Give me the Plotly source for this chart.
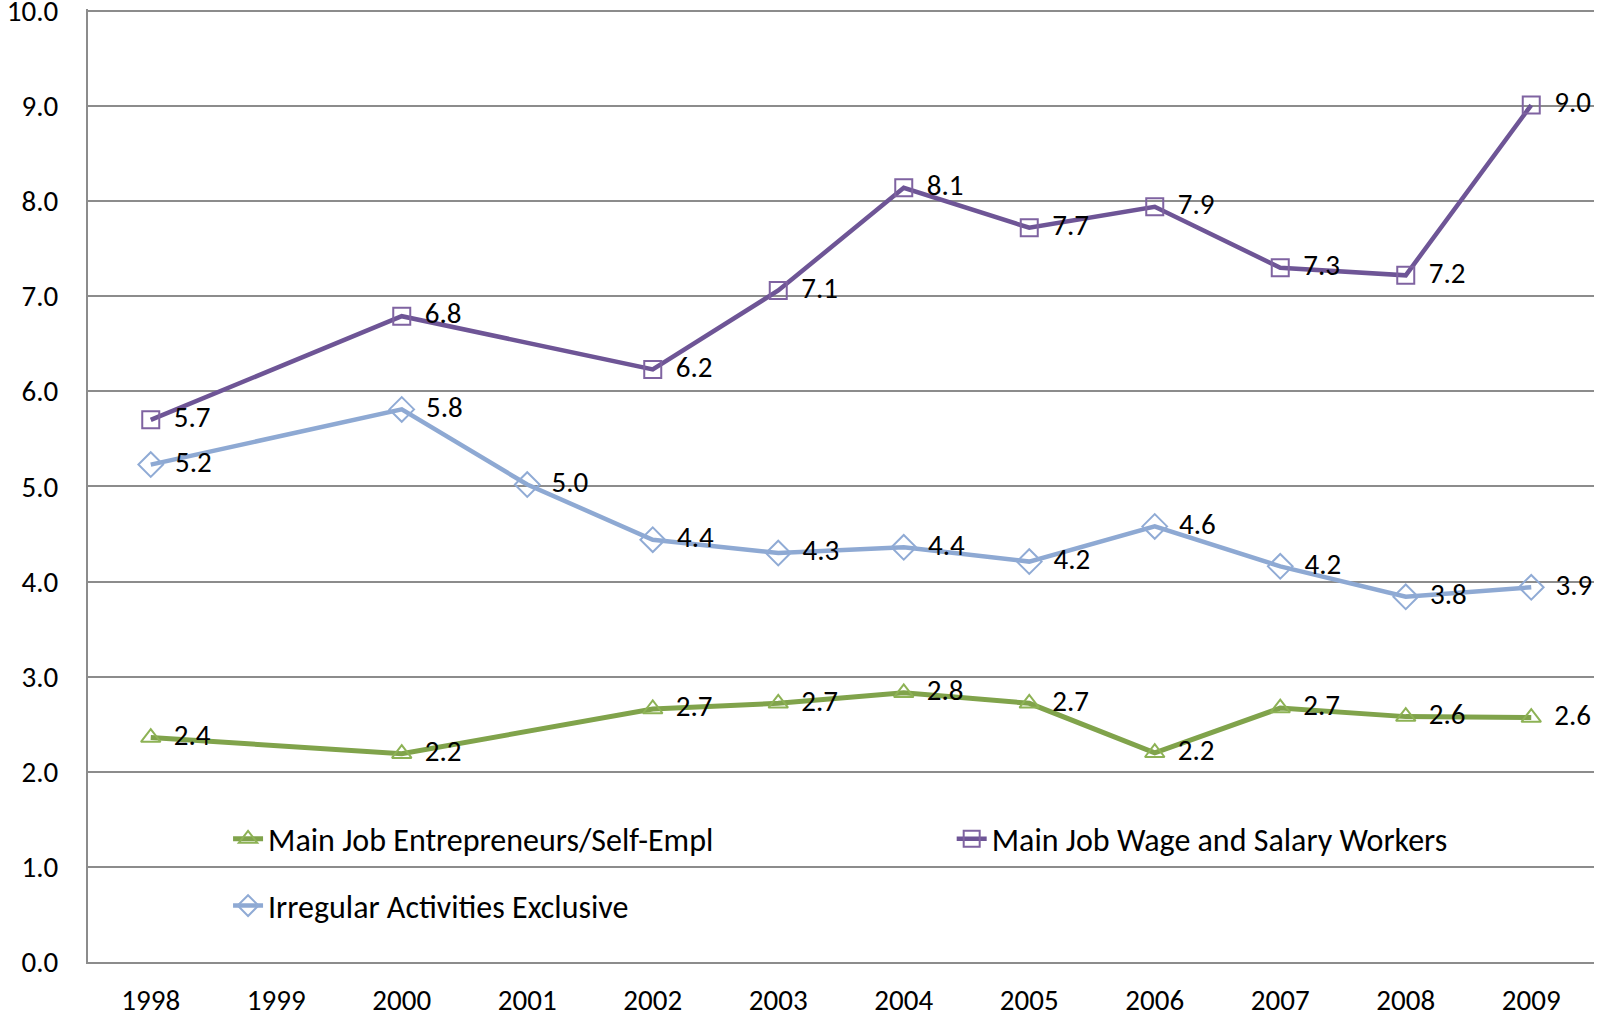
import plotly.graph_objects as go

years = [1998, 1999, 2000, 2001, 2002, 2003, 2004, 2005, 2006, 2007, 2008, 2009]
year_labels = [str(y) for y in years]

entrepreneurs = [2.36, None, 2.19, None, 2.66, 2.72, 2.83, 2.72, 2.20, 2.67, 2.58, 2.57]
wage_salary = [5.70, None, 6.79, None, 6.23, 7.06, 8.14, 7.72, 7.94, 7.30, 7.22, 9.01]
irregular = [5.23, None, 5.81, 5.02, 4.44, 4.30, 4.36, 4.21, 4.58, 4.16, 3.84, 3.94]

y_ticks = [0, 1, 2, 3, 4, 5, 6, 7, 8, 9, 10]

FONT = "Carlito, Lato, 'Open Sans', sans-serif"
FS = 29
LFS = 32

fig = go.Figure()

series = [
    ("Main Job Entrepreneurs/Self-Empl", entrepreneurs, "#80A34B", "#8DB255", "triangle-up-open", 17, 5, "legend"),
    ("Main Job Wage and Salary Workers", wage_salary, "#6E5596", "#7F63A1", "square-open", 17, 4.5, "legend2"),
    ("Irregular Activities Exclusive", irregular, "#8EA9D3", "#90ABD5", "diamond-open", 19, 4.5, "legend3"),
]

for name, vals, lc, mc, sym, ms, lw, leg in series:
    fig.add_trace(go.Scatter(
        x=years, y=vals, name=name, mode="lines+markers+text",
        connectgaps=True, showlegend=True,
        line=dict(color=lc, width=lw),
        marker=dict(symbol=sym, size=ms, color=mc, line=dict(color=mc, width=2)),
        texttemplate="\u00a0\u2006%{y:.1f}", textposition="middle right",
        textfont=dict(family=FONT, size=FS, color="black"),
        cliponaxis=False, hoverinfo="skip",
        legend=leg,
    ))

leg_common = dict(
    orientation="h", xanchor="left", yanchor="middle",
    font=dict(family=FONT, size=LFS, color="black"),
    bgcolor="rgba(0,0,0,0)", visible=True,
)

fig.update_layout(
    width=1598, height=1019,
    margin=dict(l=88, r=4, t=9, b=57, autoexpand=False),
    paper_bgcolor="white", plot_bgcolor="white",
    showlegend=True,
    font=dict(family=FONT, size=FS, color="black"),
    legend=dict(x=0.093, y=0.129, **leg_common),
    legend2=dict(x=0.5735, y=0.129, **leg_common),
    legend3=dict(x=0.093, y=0.059, **leg_common),
    xaxis=dict(
        range=[1997.5, 2009.5], tickmode="array", tickvals=years, ticktext=year_labels,
        showgrid=False, showline=True, linecolor="#8C8C8C", linewidth=2,
        ticks="", zeroline=False, ticklabelstandoff=11, automargin=False,
        ticklabeloverflow="allow",
        tickfont=dict(family=FONT, size=FS, color="black"),
    ),
    yaxis=dict(
        range=[0, 10.02], tickmode="array", tickvals=y_ticks,
        ticktext=[f"{v:.1f}" for v in y_ticks],
        showgrid=True, gridcolor="#8C8C8C", gridwidth=2,
        showline=True, linecolor="#8C8C8C", linewidth=2,
        ticks="", zeroline=False, ticklabelstandoff=22, automargin=False,
        ticklabeloverflow="allow",
        tickfont=dict(family=FONT, size=FS, color="black"),
    ),
)

fig.write_html(
    "out.html",
    config={"displayModeBar": False},
    post_script="document.body.style.margin='0';document.body.style.overflow='hidden';",
)
